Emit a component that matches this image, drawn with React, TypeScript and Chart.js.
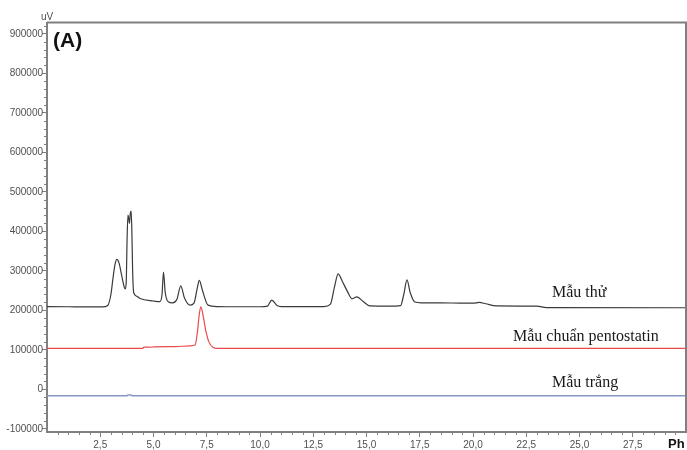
import { useEffect, useRef } from "react";
import { Chart, registerables } from "chart.js";

Chart.register(...registerables);

// Retention time (min) and detector response (uV) for each trace
const SAMPLE_T = [
  0, 1, 2, 2.6, 2.85, 3.0, 3.1, 3.2, 3.28, 3.38, 3.5, 3.6, 3.67, 3.72, 3.76, 3.8, 3.84, 3.87, 3.91, 3.95,
  3.98, 4.02, 4.07, 4.2, 4.37, 5.0, 5.3, 5.4, 5.47, 5.55, 5.69, 5.9, 6.1, 6.28, 6.45, 6.72, 6.9, 7.05,
  7.15, 7.3, 7.56, 8.0, 9.0, 10.0, 10.35, 10.55, 10.8, 11.0, 12.0, 13.0, 13.3, 13.5, 13.67, 13.85, 14.1,
  14.32, 14.55, 14.85, 15.16, 16.0, 16.6, 16.75, 16.9, 17.05, 17.27, 17.6, 19.0, 20.0, 20.3, 20.6, 21.1,
  23.0, 23.45, 30.0,
];
const SAMPLE_UV = [
  209500, 209000, 208500, 208500, 212000, 240000, 282000, 318000, 329000, 320000, 290000, 264000, 254000,
  272000, 380000, 441000, 432000, 420000, 445000, 451000, 410000, 300000, 245000, 236000, 230000, 223500,
  221800, 240000, 297000, 245000, 221800, 219000, 228000, 262000, 232000, 213000, 218000, 255000, 276000,
  250000, 213000, 209500, 209000, 209000, 210500, 226000, 212000, 209500, 209500, 209500, 215000, 260000,
  292000, 275000, 248000, 229000, 234000, 222000, 211000, 210500, 212000, 240000, 277000, 245000, 221000,
  219000, 218500, 218000, 220000, 216500, 211000, 210500, 207000, 206500,
];

const STANDARD_T = [0, 4.5, 4.55, 4.9, 5.0, 6.0, 6.72, 6.95, 7.05, 7.15, 7.22, 7.3, 7.45, 7.6, 7.8, 8.0, 30.0];
const STANDARD_UV = [
  103800, 103800, 107000, 106500, 107500, 108000, 110000, 112000, 140000, 190000, 209000, 195000, 150000,
  120000, 106000, 103800, 103800,
];

const BLANK_T = [0, 3.75, 3.8, 3.95, 4.0, 30.0];
const BLANK_UV = [-16200, -16200, -14500, -14500, -16200, -16200];

const SERIES_NAMES = ["Mẫu thử", "Mẫu chuẩn pentostatin", "Mẫu trắng"];
const SERIES_COLORS = ["#3a3a3a", "#ea4a4a", "#8596c6"];

const X_TICKS = [2.5, 5, 7.5, 10, 12.5, 15, 17.5, 20, 22.5, 25, 27.5];
const Y_TICKS = [-100000, 0, 100000, 200000, 300000, 400000, 500000, 600000, 700000, 800000, 900000];

const X_MIN = 0;
const X_MAX = 30;
const Y_MIN = -108100;
const Y_MAX = 928600;

const AXIS_GRAY = "#808080";
const LABEL_GRAY = "#505050";
const SANS = "'Liberation Sans', Arial, sans-serif";
const SERIF = "'Liberation Serif', 'DejaVu Serif', 'Times New Roman', serif";

const toPoints = (t: number[], v: number[]) => t.map((x, i) => ({ x, y: v[i] }));

// Minor ticks, frame, axis captions and trace names
const decorations = {
  id: "decorations",
  afterDraw(chart: any) {
    const { ctx, chartArea, scales } = chart;
    const xs = scales.x;
    const ys = scales.y;
    ctx.save();

    ctx.strokeStyle = AXIS_GRAY;
    ctx.lineWidth = 1;
    // x minor ticks every 0.5 min
    for (let i = 1; i < 60; i++) {
      const v = i * 0.5;
      if (Math.abs(v / 2.5 - Math.round(v / 2.5)) < 1e-6) continue;
      const px = Math.round(xs.getPixelForValue(v)) + 0.5;
      ctx.beginPath();
      ctx.moveTo(px, chartArea.bottom);
      ctx.lineTo(px, chartArea.bottom + 3);
      ctx.stroke();
    }
    // y minor ticks every 20000
    for (let v = -100000; v <= 920000; v += 20000) {
      if (v % 100000 === 0) continue;
      const py = Math.round(ys.getPixelForValue(v)) + 0.5;
      ctx.beginPath();
      ctx.moveTo(chartArea.left - 3, py);
      ctx.lineTo(chartArea.left, py);
      ctx.stroke();
    }

    // top and right frame
    ctx.lineWidth = 2;
    ctx.beginPath();
    ctx.moveTo(chartArea.left, chartArea.top);
    ctx.lineTo(chartArea.right, chartArea.top);
    ctx.lineTo(chartArea.right, chartArea.bottom);
    ctx.stroke();

    // axis captions
    ctx.fillStyle = LABEL_GRAY;
    ctx.font = `10px ${SANS}`;
    ctx.textAlign = "left";
    ctx.textBaseline = "alphabetic";
    ctx.fillText("uV", 41, 20);

    ctx.fillStyle = "#111";
    ctx.font = `bold 13px ${SANS}`;
    ctx.fillText("Ph", 668, 448);

    ctx.font = `bold 21px ${SANS}`;
    ctx.fillText("(A)", 53, 47);

    // trace names
    ctx.font = `16px ${SERIF}`;
    ctx.fillStyle = "#1a1a1a";
    ctx.fillText(SERIES_NAMES[0], 552, 297);
    ctx.fillText(SERIES_NAMES[1], 513, 341);
    ctx.fillText(SERIES_NAMES[2], 552, 387);

    ctx.restore();
  },
};

export default function App() {
  const canvasRef = useRef<HTMLCanvasElement | null>(null);

  useEffect(() => {
    document.body.style.margin = "0";
    const canvas = canvasRef.current;
    if (!canvas) return;

    const series = [
      toPoints(SAMPLE_T, SAMPLE_UV),
      toPoints(STANDARD_T, STANDARD_UV),
      toPoints(BLANK_T, BLANK_UV),
    ];

    const chart = new Chart(canvas, {
      type: "line",
      data: {
        datasets: series.map((data, i) => ({
          label: SERIES_NAMES[i],
          data,
          borderColor: SERIES_COLORS[i],
          borderWidth: i === 2 ? 1.6 : 1.2,
          pointRadius: 0,
          fill: false,
          cubicInterpolationMode: "monotone" as const,
        })),
      },
      options: {
        animation: false,
        responsive: false,
        maintainAspectRatio: false,
        parsing: false,
        layout: { padding: { top: 22.5, right: 1, left: 0, bottom: 0 } },
        plugins: { legend: { display: false }, tooltip: { enabled: false } },
        scales: {
          x: {
            type: "linear",
            min: X_MIN,
            max: X_MAX,
            border: { display: true, color: AXIS_GRAY, width: 2 },
            grid: { drawOnChartArea: false, drawTicks: true, tickLength: 5, color: AXIS_GRAY },
            ticks: {
              color: LABEL_GRAY,
              font: { family: SANS, size: 10 },
              padding: 2,
              maxRotation: 0,
              autoSkip: false,
              callback: (v: any) => Number(v).toFixed(1).replace(".", ","),
            },
            afterBuildTicks: (scale: any) => {
              scale.ticks = X_TICKS.map((value) => ({ value }));
            },
            afterFit: (scale: any) => {
              scale.height = 18;
            },
          },
          y: {
            type: "linear",
            min: Y_MIN,
            max: Y_MAX,
            border: { display: true, color: AXIS_GRAY, width: 2 },
            grid: { drawOnChartArea: false, drawTicks: true, tickLength: 5, color: AXIS_GRAY },
            ticks: {
              color: LABEL_GRAY,
              font: { family: SANS, size: 10 },
              padding: -1,
              callback: (v: any) => String(v),
            },
            afterBuildTicks: (scale: any) => {
              scale.ticks = Y_TICKS.map((value) => ({ value }));
            },
            afterFit: (scale: any) => {
              scale.width = 47;
            },
          },
        },
      },
      plugins: [decorations],
    });

    return () => chart.destroy();
  }, []);

  return (
    <div style={{ width: 687, height: 450, background: "#fff" }}>
      <canvas ref={canvasRef} width={687} height={450} style={{ display: "block" }} />
    </div>
  );
}
